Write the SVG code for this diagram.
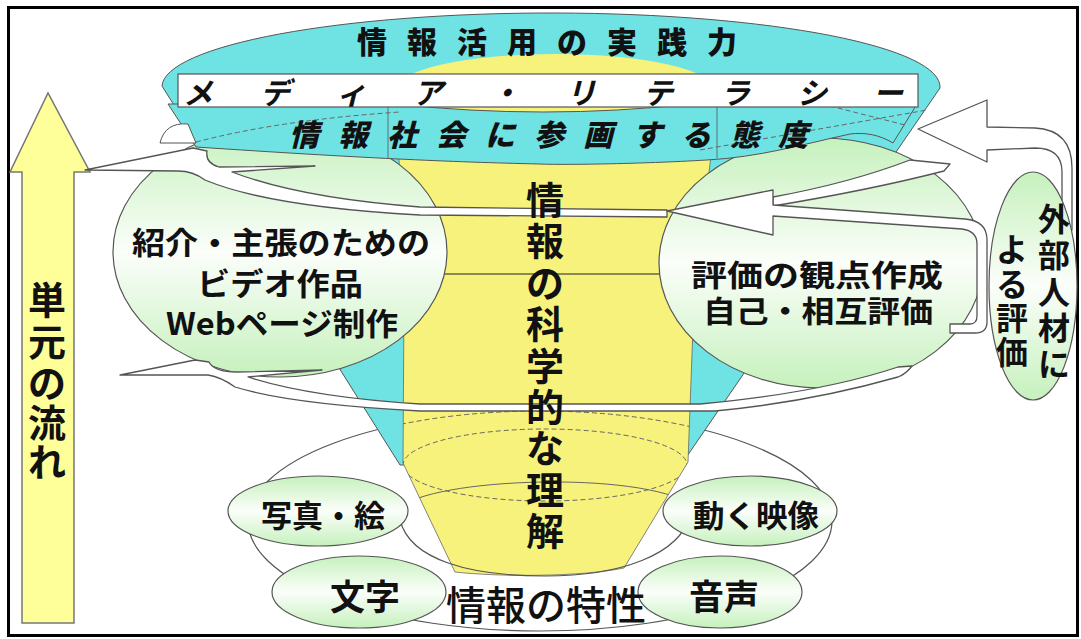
<svg xmlns="http://www.w3.org/2000/svg" width="1081" height="639" viewBox="0 0 1081 639">
<defs>
  <linearGradient id="gr" x1="0" y1="0" x2="0" y2="1">
    <stop offset="0" stop-color="#c6f1bd"/>
    <stop offset="0.5" stop-color="#fbfefa"/>
    <stop offset="1" stop-color="#c6f1bd"/>
  </linearGradient>
  <clipPath id="yc">
    <path d="M398,130 L404,300 L403,463 L455,572 C500,577 580,577 624,568 L688,462 L694,300 L714,130 Z"/>
  </clipPath>
</defs>
<style>
  .jp{font-family:"Noto Sans CJK JP","Noto Sans CJK SC",sans-serif;fill:#111;text-anchor:middle;dominant-baseline:central}
  .b{font-weight:bold}
  .k{font-weight:900}
  .it{font-style:italic}
  .ell{fill:url(#gr);stroke:#555;stroke-width:1.2}
  .rib{fill:#fff;stroke:#555;stroke-width:1.3;stroke-linejoin:round}
  .ln{fill:none;stroke:#555;stroke-width:1.2}
  .dash{fill:none;stroke:#666;stroke-width:1;stroke-dasharray:5 3}
</style>
<rect width="1081" height="639" fill="#fff"/>
<rect x="8.5" y="7.5" width="1069" height="628" fill="none" stroke="#000" stroke-width="3"/>

<g id="flow-arrow">
  <path d="M22,623 L22,172 L10,172 L48,93 L90,172 L74,172 L74,623 Z" fill="#ffff99" stroke="#777" stroke-width="1.5"/>
  <text class="jp b" font-size="38" x="47 47 47 47 47" y="297 339 380 420 459">単元の流れ</text>
</g>

<g id="ring">
  <ellipse cx="540" cy="521" rx="292" ry="110" fill="#fff" stroke="#555" stroke-width="1.2"/>
</g>

<g id="cone">
  <path d="M162,86 A389,74 0 0 1 940,88 L683,462 L400,465 Z" fill="#6fe3e3" stroke="#555" stroke-width="1"/>
  <ellipse cx="555" cy="90" rx="160" ry="36" fill="#f7f27c"/>
  <path d="M398,130 L404,300 L403,463 L455,572 C500,577 580,577 624,568 L688,462 L694,300 L714,130 Z" fill="#f7f27c" stroke="#666" stroke-width="0.8"/>
  <g clip-path="url(#yc)">
    <ellipse cx="540" cy="521" rx="292" ry="110" class="dash"/>
    <ellipse cx="545" cy="465" rx="142" ry="36" class="dash"/>
    <path d="M400,508 C430,478 640,470 692,505" fill="none" stroke="#666" stroke-width="1"/>
  </g>
  <path d="M400,520 C410,560 470,576 545,576 C620,576 680,555 690,515" class="ln"/>
  <line x1="443" y1="274" x2="662" y2="274" stroke="#8a8a50" stroke-width="2.2"/>
</g>

<g id="node-left">
  <ellipse cx="280" cy="252" rx="167" ry="125" class="ell"/>
  <text class="jp b" font-size="31" x="281" y="240" textLength="298" lengthAdjust="spacingAndGlyphs">紹介・主張のための</text>
  <text class="jp b" font-size="31" x="280" y="281" textLength="166" lengthAdjust="spacingAndGlyphs">ビデオ作品</text>
  <text class="jp b" font-size="31" x="282" y="321" textLength="232" lengthAdjust="spacingAndGlyphs">Webページ制作</text>
</g>

<g id="node-right">
  <ellipse cx="821" cy="263" rx="162" ry="125" class="ell"/>
  <text class="jp b" font-size="30" x="817" y="273" textLength="252" lengthAdjust="spacingAndGlyphs">評価の観点作成</text>
  <text class="jp b" font-size="30" x="818" y="309" textLength="230" lengthAdjust="spacingAndGlyphs">自己・相互評価</text>
</g>

<g id="connectors">
  <path class="rib" d="M85,170 L193,148 L207,151 Q205,163 219,167 L315,166 L232,172 Q300,198 420,207 L667,210 L667,217 L420,215 Q270,207 205,180 Q193,171 178,171 Z"/>
  <path class="rib" d="M120,375 L195,360 L209,362 Q214,372 237,372 L322,370 L248,377 Q310,397 420,404 L700,404 Q820,393 898,367 L912,366 Q906,374 898,377 Q810,402 715,411 L420,411 Q290,404 235,387 Q221,377 208,375 Z"/>
  <path class="rib" d="M910,160 L950,164 L944,171 Q870,190 773,206 L773,197 Q850,183 910,160 Z"/>
  <path class="rib" d="M667,211 L773,190 L773,205 L965,219 Q987,221 987,240 L987,322 Q987,333 975,333 L950,333 L950,324 L970,324 Q977,324 977,316 L977,244 Q977,231 962,229 L773,216 L773,235 Z"/>
</g>

<g id="band-front">
  <path d="M168,104 L395,104 Q545,120 690,104 L917,104 L893,143 C880,135 865,132 850,134 C800,145 760,157 707,160 C640,164 560,165 540,164 C450,162 360,158 196,147 Z" fill="#6fe3e3" stroke="#555" stroke-width="1"/>
  <line x1="388" y1="107" x2="388" y2="158" stroke="#555" stroke-width="0.8"/>
  <line x1="717" y1="107" x2="717" y2="158" stroke="#555" stroke-width="0.8"/>
  <path d="M700,150 L927,110 M830,106 L905,125 M196,142 Q280,120 400,112" class="dash"/>
  <path d="M160,143 Q165,122 188,124 L196,143 Z" fill="#fff" stroke="#555" stroke-width="1"/>
  <rect x="178" y="74" width="740" height="33" fill="#fff" stroke="#555" stroke-width="1.2"/>
  <text class="jp k" font-size="30" x="372 422 472 522 572 622 672 722" y="40 40 40 40 40 40 40 40">情報活用の実践力</text>
  <text class="jp b it" font-size="30" x="198 275 351 428 505 581 658 735 812 888" y="91 91 91 91 91 91 91 91 91 91">メディア・リテラシー</text>
  <text class="jp k it" font-size="30" x="304 353 402 451 500 549 598 647 696 745 793" y="133 133 133 133 133 133 133 133 133 133 133">情報社会に参画する態度</text>
</g>

<g id="arrow-external">
  <path class="rib" d="M918,129 L987,100 L987,127 L1035,128 Q1072,130 1072,168 L1072,230 L1062,230 L1062,172 Q1062,148 1035,148 L987,150 L987,162 Z"/>
</g>

<g id="node-external">
  <ellipse cx="1033" cy="286" rx="44" ry="114" class="ell"/>
  <text class="jp b" font-size="32" x="1054 1054 1054 1054 1054" y="217 253 290 326 362">外部人材に</text>
  <text class="jp b" font-size="32" x="1012 1012 1012 1012" y="247 282 316 350">よる評価</text>
</g>

<g id="node-center">
  <text class="jp b" font-size="38" x="545 545 545 545 545 545 545 545 545" y="197 238 280 321 363 404 445 487 528">情報の科学的な理解</text>
</g>

<g id="node-traits">
  <ellipse cx="318" cy="511" rx="90" ry="35" class="ell"/>
  <text class="jp b" font-size="31" x="323" y="513" textLength="124" lengthAdjust="spacingAndGlyphs">写真・絵</text>
  <ellipse cx="750" cy="511" rx="87" ry="35" class="ell"/>
  <text class="jp b" font-size="31" x="756" y="513" textLength="126" lengthAdjust="spacingAndGlyphs">動く映像</text>
  <ellipse cx="359" cy="592" rx="87" ry="36" class="ell"/>
  <text class="jp b" font-size="35" x="365" y="594">文字</text>
  <ellipse cx="720" cy="592" rx="82" ry="36" class="ell"/>
  <text class="jp b" font-size="35" x="724" y="594">音声</text>
  <text class="jp" font-size="40" font-weight="500" x="546" y="603">情報の特性</text>
</g>
</svg>
